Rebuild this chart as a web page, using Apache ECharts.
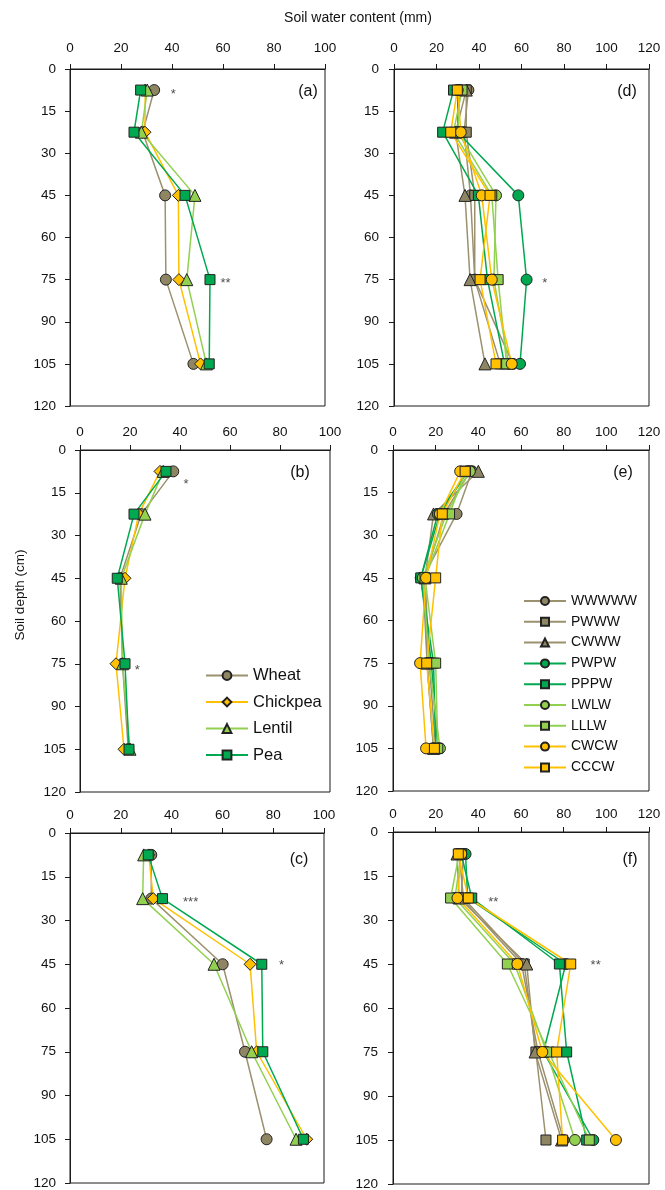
<!DOCTYPE html>
<html><head><meta charset="utf-8">
<script src="https://cdn.jsdelivr.net/npm/echarts/dist/echarts.min.js"></script>
<style>html,body{margin:0;padding:0;background:#fff}#c{width:665px;height:1190px}</style>
</head><body><div id="c"></div><script>
// ---------- data ----------
const depths = [7.5, 22.5, 45, 75, 105];
const depthTicks = [0, 15, 30, 45, 60, 75, 90, 105, 120];
const xMaxLeft = 100, xMaxRight = 120, xStep = 20;

const cropNames = ['Wheat', 'Chickpea', 'Lentil', 'Pea'];
const rotNames = ['WWWWW', 'PWWW', 'CWWW', 'PWPW', 'PPPW', 'LWLW', 'LLLW', 'CWCW', 'CCCW'];

// panel (a),(b),(c): Wheat, Chickpea, Lentil, Pea
const panelA = [
  [33, 28.5, 37.3, 37.6, 48.4],
  [29.5, 29.4, 42.5, 42.7, 51.2],
  [30.3, 28, 49, 45.8, 53.5],
  [27.7, 25.1, 45.1, 54.9, 54.6]
];
const panelB = [
  [37.3, 24.5, 16, 17, 19.3],
  [32, 23.5, 18, 14.4, 17.6],
  [33.3, 26, 16.5, 17, 20],
  [34.4, 21.6, 14.9, 18, 19.6]
];
const panelC = [
  [32, 32, 60.1, 68.9, 77.4],
  [31, 32.8, 70.9, 73.5, 93.2],
  [29, 28.6, 56.7, 71.5, 89],
  [30.8, 36.4, 75.5, 75.9, 91.9]
];
// panel (d),(e),(f): rotations in rotNames order
const panelD = [
  [35, 33, 36, 38, 56],
  [34, 34, 38, 38, 50],
  [34, 29, 33.4, 35.8, 42.8],
  [30, 30, 58.5, 62.4, 59.3],
  [28, 22.9, 39.7, 44, 52],
  [31, 30, 48, 47, 54],
  [32, 28, 46, 49, 53],
  [30, 31.4, 41.3, 46, 55.4],
  [29.8, 26.7, 45.2, 40.5, 48]
];
const panelE = [
  [37, 29.8, 14, 16, 19],
  [36, 24, 15, 17, 20],
  [40, 19, 15, 16, 19],
  [35, 21, 13, 18, 21],
  [35, 22, 13, 19, 20],
  [36, 25, 14, 17, 22],
  [34, 26.5, 15, 20, 21],
  [31.5, 22, 15.5, 12.7, 15.5],
  [33.8, 23.1, 20, 15.8, 19.4]
];
const panelF = [
  [33, 32, 60.3, 68, 80],
  [31, 33, 61.5, 67, 71.7],
  [30, 31, 62.7, 66.6, 79],
  [34, 35, 81, 70.5, 93.9],
  [32, 36.9, 78, 81.4, 90.8],
  [32, 29, 57, 72, 85.3],
  [31, 27, 53.6, 73, 92],
  [32, 30.2, 58.3, 70, 104.5],
  [30.6, 35.3, 83.3, 76.7, 79.5]
];
// significance marks: [water content, depth, text]
const starsA = [[40.5, 7.5, '*'], [61, 75, '**']];
const starsB = [[42.4, 10.5, '*'], [22.9, 76, '*']];
const starsC = [[47.5, 22.5, '***'], [83.3, 44, '*']];
const starsD = [[71, 75, '*']];
const starsE = [];
const starsF = [[47, 22.5, '**'], [95, 44, '**']];
const panelLetters = ['(a)', '(b)', '(c)', '(d)', '(e)', '(f)'];

// ---------- styles ----------
const FONT = 'Liberation Sans, Arial, sans-serif';
const BROWN = '#8E8562', BROWNL = '#9B916F';
const YEL = '#FFC000', LGR = '#92D050', DGR = '#00A850';
const EDGE = '#222';
const cropStyle = [
  {c: BROWN, l: BROWNL, s: 'circle', z: 11},
  {c: YEL, l: YEL, s: 'diamond', z: 12},
  {c: LGR, l: LGR, s: 'triangle', z: 12},
  {c: DGR, l: DGR, s: 'rect', z: 10}
];
const rotStyle = [
  {c: BROWN, l: BROWNL, s: 'circle', z: 11},
  {c: BROWN, l: BROWNL, s: 'rect', z: 10},
  {c: BROWN, l: BROWNL, s: 'triangle', z: 12},
  {c: DGR, l: DGR, s: 'circle', z: 11},
  {c: DGR, l: DGR, s: 'rect', z: 10},
  {c: LGR, l: LGR, s: 'circle', z: 11},
  {c: LGR, l: LGR, s: 'rect', z: 10},
  {c: YEL, l: YEL, s: 'circle', z: 11},
  {c: YEL, l: YEL, s: 'rect', z: 10}
];

const grids = [
  {left: 70, top: 69, width: 255, height: 337},
  {left: 80, top: 450, width: 250, height: 342},
  {left: 70, top: 833, width: 254, height: 350},
  {left: 394, top: 69, width: 255, height: 337},
  {left: 393, top: 450, width: 256, height: 341},
  {left: 393, top: 832, width: 256, height: 352}
];
const letterPos = [[308, 92], [300, 473], [299, 860], [627, 92], [623, 473], [630, 860]];
const labelMargins = [14, 11, 11, 14, 11, 11];
const panels = [panelA, panelB, panelC, panelD, panelE, panelF];
const stars = [starsA, starsB, starsC, starsD, starsE, starsF];

const option = {
  animation: false,
  backgroundColor: '#fff',
  textStyle: {fontFamily: FONT},
  grid: grids.map(g => Object.assign({show: true, borderColor: '#1a1a1a', borderWidth: 1, outerBoundsMode: 'none', containLabel: false}, g)),
  xAxis: grids.map((g, i) => ({
    type: 'value', gridIndex: i, position: 'top',
    min: 0, max: i < 3 ? xMaxLeft : xMaxRight, interval: xStep,
    axisLine: {show: true, lineStyle: {color: '#1a1a1a', width: 1}},
    axisTick: {show: true, length: 5, lineStyle: {color: '#1a1a1a'}},
    axisLabel: {color: '#111', fontSize: 13.5, fontFamily: FONT, margin: labelMargins[i]},
    splitLine: {show: false}
  })),
  yAxis: grids.map((g, i) => ({
    type: 'value', gridIndex: i, inverse: true,
    min: depthTicks[0], max: depthTicks[depthTicks.length - 1], interval: depthTicks[1] - depthTicks[0],
    axisLine: {show: true, lineStyle: {color: '#1a1a1a', width: 1}},
    axisTick: {show: true, length: 5, lineStyle: {color: '#1a1a1a'}},
    axisLabel: {color: '#111', fontSize: 13.5, fontFamily: FONT, margin: i < 3 ? 14 : 15},
    splitLine: {show: false}
  })),
  legend: [
    {data: cropNames, orient: 'vertical', left: 205, top: 667, padding: 0, itemWidth: 42, itemHeight: 11, itemGap: 9.5,
     textStyle: {fontSize: 16.5, color: '#111', fontFamily: FONT}, selectedMode: false},
    {data: rotNames, orient: 'vertical', left: 523, top: 594, padding: 0, itemWidth: 42, itemHeight: 10, itemGap: 6.8,
     textStyle: {fontSize: 14, color: '#111', fontFamily: FONT}, selectedMode: false}
  ],
  graphic: [
    {type: 'text', x: 358, y: 18, style: {text: 'Soil water content (mm)', fill: '#111', font: '14px ' + FONT, align: 'center', verticalAlign: 'middle'}},
    {type: 'text', x: 20, y: 595, rotation: Math.PI / 2, style: {text: 'Soil depth (cm)', fill: '#111', font: '13.5px ' + FONT, align: 'center', verticalAlign: 'middle'}}
  ].concat(letterPos.map((p, i) => ({
    type: 'text', x: p[0], y: p[1],
    style: {text: panelLetters[i], fill: '#111', font: '16px ' + FONT, align: 'center', verticalAlign: 'middle'}
  }))),
  series: []
};

panels.forEach((panel, pi) => {
  const names = pi < 3 ? cropNames : rotNames;
  const styles = pi < 3 ? cropStyle : rotStyle;
  panel.forEach((vals, si) => {
    const st = styles[si];
    option.series.push({
      type: 'line', name: names[si], xAxisIndex: pi, yAxisIndex: pi,
      data: vals.map((v, k) => [v, depths[k]]),
      symbol: st.s, symbolSize: st.z, showAllSymbol: true,
      lineStyle: {color: st.l, width: 1.5},
      itemStyle: {color: st.c, borderColor: EDGE, borderWidth: 1},
      emphasis: {disabled: true}
    });
  });
  option.series.push({
    type: 'scatter', name: 'sig', xAxisIndex: pi, yAxisIndex: pi,
    data: stars[pi].map(s => [s[0], s[1], s[2]]),
    symbolSize: 1, itemStyle: {color: 'rgba(0,0,0,0)'},
    label: {show: true, position: 'inside', formatter: p => p.data[2], fontSize: 13, color: '#222', fontFamily: FONT, offset: [0, 4]},
    silent: true
  });
});

const chart = echarts.init(document.getElementById('c'), null, {renderer: 'canvas'});
chart.setOption(option);
</script></body></html>
